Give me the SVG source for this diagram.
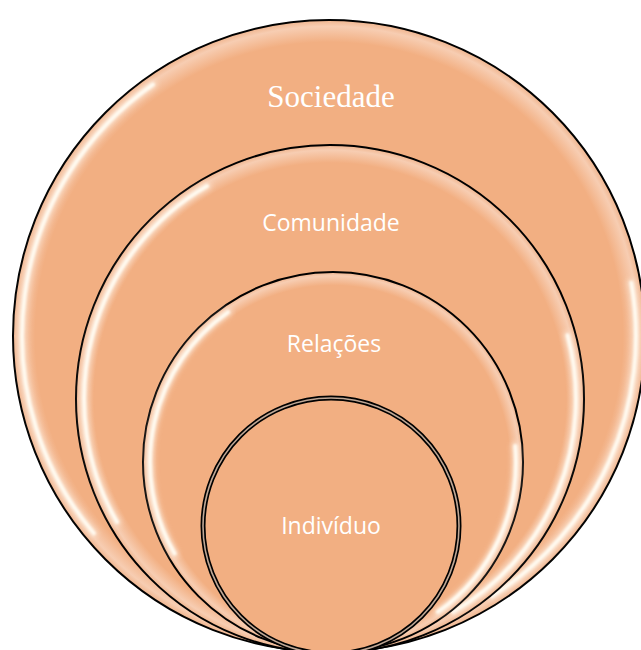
<svg xmlns="http://www.w3.org/2000/svg" width="641" height="650" viewBox="0 0 641 650">
  <style>
    .disc { fill: url(#rim); stroke: #000; stroke-width: 2; }
    .glow { fill: none; stroke: #fde8d6; stroke-width: 9; stroke-linecap: round; opacity: 0.6; filter: url(#soft); }
    .hl { fill: none; stroke: #fffaf0; stroke-width: 4; stroke-linecap: round; filter: url(#blur); }
    .lbl { fill: #fff; font-family: "Open Sans", "Liberation Sans", sans-serif; font-size: 23px; text-anchor: middle; }
    .serif { fill: #fff; font-family: "Liberation Serif", serif; font-size: 31px; text-anchor: middle; }
  </style>
  <defs>
    <radialGradient id="rim" cx="0.5" cy="0.5" r="0.5">
      <stop offset="0" stop-color="#F2AF82"/>
      <stop offset="0.93" stop-color="#F2AF82"/>
      <stop offset="0.98" stop-color="#F7CDB2"/>
      <stop offset="1" stop-color="#F0B58E"/>
    </radialGradient>
    <filter id="blur" x="-10%" y="-10%" width="120%" height="120%">
      <feGaussianBlur stdDeviation="1.2"/>
    </filter>
    <filter id="soft" x="-10%" y="-10%" width="120%" height="120%">
      <feGaussianBlur stdDeviation="2.5"/>
    </filter>
  </defs>
  <rect width="641" height="650" fill="#fff"/>

  <g id="sociedade">
    <circle class="disc" cx="329" cy="336" r="316"/>
    <path class="glow" d="M 152.9 84.5 A 307 307 0 0 0 93.8 533.3"/>
    <path class="glow" d="M 631.3 282.7 A 307 307 0 0 1 491.7 596.3"/>
    <path class="hl" d="M 152.9 84.5 A 307 307 0 0 0 93.8 533.3"/>
    <path class="hl" d="M 631.3 282.7 A 307 307 0 0 1 491.7 596.3"/>
    <text class="serif" x="331" y="107">Sociedade</text>
  </g>

  <g id="comunidade">
    <circle class="disc" cx="330" cy="399" r="254"/>
    <path class="glow" d="M 207 186 A 246 246 0 0 0 117 522"/>
    <path class="glow" d="M 567.6 335.3 A 246 246 0 0 1 453 612"/>
    <path class="hl" d="M 207 186 A 246 246 0 0 0 117 522"/>
    <path class="hl" d="M 567.6 335.3 A 246 246 0 0 1 453 612"/>
    <text class="lbl" x="331" y="231">Comunidade</text>
  </g>

  <g id="relacoes">
    <circle class="disc" cx="333" cy="462" r="190"/>
    <path class="glow" d="M 228 312.1 A 183 183 0 0 0 174.5 553.5"/>
    <path class="glow" d="M 515.3 446.1 A 183 183 0 0 1 438 611.9"/>
    <path class="hl" d="M 228 312.1 A 183 183 0 0 0 174.5 553.5"/>
    <path class="hl" d="M 515.3 446.1 A 183 183 0 0 1 438 611.9"/>
    <text class="lbl" x="334" y="352">Relações</text>
  </g>

  <g id="individuo">
    <circle cx="331" cy="526" r="128" fill="#F2AF82" stroke="#000" stroke-width="5"/>
    <circle cx="331" cy="526" r="128" fill="none" stroke="#BFA795" stroke-width="1.6"/>
    <text class="lbl" x="331" y="534">Indivíduo</text>
  </g>

  <g id="connectors"/>
</svg>
